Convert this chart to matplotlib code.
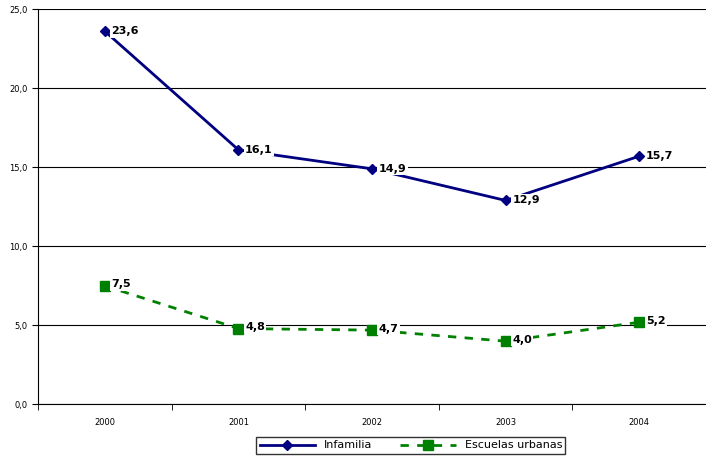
import matplotlib
matplotlib.use("Agg")
from matplotlib import pyplot as plt

years = ["2000", "2001", "2002", "2003", "2004"]
infamilia = [23.6, 16.1, 14.9, 12.9, 15.7]
escuelas = [7.5, 4.8, 4.7, 4.0, 5.2]
yticks = [0, 5, 10, 15, 20, 25]

plt.rcParams['font.family'] = ['DejaVu Sans']
fig = plt.figure(figsize=(7.06, 4.57), dpi=100)
ax = fig.add_axes([0.054, 0.115, 0.946, 0.865])

x = list(range(len(years)))
ax.plot(x, infamilia, color='#000080', lw=2, marker='D', ms=5, label='Infamilia')
ax.plot(x, escuelas, color='#008000', lw=2, ls=(0, (3, 3)), marker='s', ms=7,
        label='Escuelas urbanas')

for xi, v in zip(x, infamilia):
    ax.text(xi + 0.05, v, f"{v:.1f}".replace('.', ','), fontsize=8, fontweight='bold',
            va='center', ha='left',
            bbox=dict(facecolor='white', edgecolor='none', pad=1))
for xi, v in zip(x, escuelas):
    ax.text(xi + 0.05, v + 0.1, f"{v:.1f}".replace('.', ','), fontsize=8, fontweight='bold',
            va='center', ha='left',
            bbox=dict(facecolor='white', edgecolor='none', pad=1))

ax.set_xlim(-0.5, 4.5)
ax.set_ylim(0, 25)
ax.set_yticks(yticks)
ax.set_yticklabels([f"{t:.1f}".replace('.', ',') for t in yticks], fontsize=6)
ax.set_xticks(x)
ax.set_xticklabels(years, fontsize=6)
ax.set_xticks([i + 0.5 for i in range(-1, 5)], minor=True)
ax.tick_params(axis='x', which='major', length=0, pad=10)
ax.tick_params(axis='x', which='minor', length=4, direction='out')
ax.tick_params(axis='y', length=4, direction='out')
ax.grid(axis='y', color='black', lw=0.8)
ax.set_axisbelow(True)
for s in ['top', 'right']:
    ax.spines[s].set_visible(False)

leg = fig.legend(loc='lower center', bbox_to_anchor=(0.582, -0.005), ncol=2, fontsize=8,
                 frameon=True, fancybox=False, edgecolor='black', handlelength=5,
                 borderpad=0.3, columnspacing=2.5)
fig.savefig("out.png", dpi=100)
